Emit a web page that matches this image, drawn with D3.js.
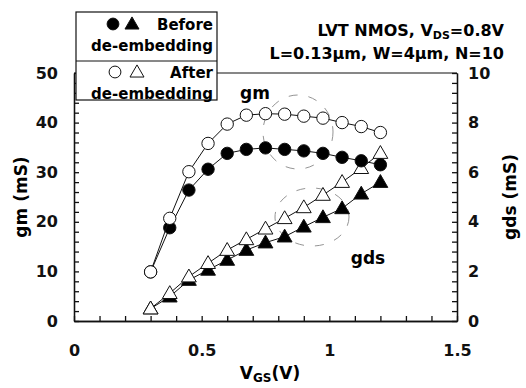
<!DOCTYPE html>
<html>
<head>
<meta charset="utf-8">
<script src="https://cdn.jsdelivr.net/npm/d3@7"></script>
<style>
  body { margin: 0; background: #fff; }
  svg { display: block; font-family: "DejaVu Sans", Verdana, sans-serif; font-weight: bold; }
  .axis text { font-size: 16px; font-weight: bold; fill: #111; font-family: "DejaVu Sans", Verdana, sans-serif; }
  .axis path, .axis line { stroke: #111; stroke-width: 1.3; }
</style>
</head>
<body>
<svg id="chart" width="526" height="388"></svg>
<script>
"use strict";

// V_GS sweep (V)
const vgs = [0.3, 0.375, 0.45, 0.525, 0.6, 0.675, 0.75, 0.825, 0.9, 0.975, 1.05, 1.125, 1.2];

// gm (mS), left axis
const gmBefore = [9.9, 18.8, 26.4, 30.6, 33.8, 34.6, 34.9, 34.6, 34.3, 33.8, 33.0, 32.3, 31.5];
const gmAfter = [9.9, 20.7, 30.1, 35.8, 39.7, 41.5, 41.8, 41.7, 41.3, 40.9, 40.0, 39.2, 38.0];

// gds (mS), right axis
const gdsBefore = [0.5, 0.98, 1.65, 2.06, 2.46, 2.86, 3.16, 3.4, 3.8, 4.18, 4.54, 5.13, 5.6];
const gdsAfter = [0.5, 1.12, 1.79, 2.33, 2.86, 3.29, 3.72, 4.14, 4.58, 5.08, 5.6, 6.16, 6.77];

// tick labels
const xTicks = [0, 0.5, 1, 1.5];
const gmTicks = [0, 10, 20, 30, 40, 50];
const gdsTicks = [0, 2, 4, 6, 8, 10];

const svg = d3.select("#chart");
const margin = { top: 73, right: 69, bottom: 67, left: 74 };
const width = 526 - margin.left - margin.right;
const height = 388 - margin.top - margin.bottom;

const x = d3.scaleLinear().domain([0, 1.5]).range([margin.left, margin.left + width]);
const yL = d3.scaleLinear().domain([0, 50]).range([margin.top + height, margin.top]);
const yR = d3.scaleLinear().domain([0, 10]).range([margin.top + height, margin.top]);

// frame top line
svg.append("line")
  .attr("x1", x(0)).attr("x2", x(1.5))
  .attr("y1", yL(50)).attr("y2", yL(50))
  .attr("stroke", "#111").attr("stroke-width", 1.2);

// x axis: minor ticks every 0.1, labels at the majors
svg.append("g").attr("class", "axis")
  .attr("transform", `translate(0,${yL(0)})`)
  .call(d3.axisBottom(x).tickValues(d3.range(0, 1.51, 0.1)).tickSizeInner(-5).tickSizeOuter(0).tickFormat(""));
svg.append("g").attr("class", "axis")
  .attr("transform", `translate(0,${yL(0)})`)
  .call(d3.axisBottom(x).tickValues(xTicks).tickSizeInner(0).tickSizeOuter(0).tickPadding(24)
    .tickFormat(d3.format("")));

svg.append("g").attr("class", "axis")
  .attr("transform", `translate(${x(0)},0)`)
  .call(d3.axisLeft(yL).tickValues(d3.range(0, 50.1, 2)).tickSizeInner(-5).tickSizeOuter(0).tickFormat(""));
svg.append("g").attr("class", "axis")
  .attr("transform", `translate(${x(0)},0)`)
  .call(d3.axisLeft(yL).tickValues(gmTicks).tickSizeInner(0).tickSizeOuter(0).tickPadding(16));

svg.append("g").attr("class", "axis")
  .attr("transform", `translate(${x(1.5)},0)`)
  .call(d3.axisRight(yR).tickValues(d3.range(0, 10.01, 0.4)).tickSizeInner(-5).tickSizeOuter(0).tickFormat(""));
svg.append("g").attr("class", "axis")
  .attr("transform", `translate(${x(1.5)},0)`)
  .call(d3.axisRight(yR).tickValues(gdsTicks).tickSizeInner(0).tickSizeOuter(0).tickPadding(11));

// axis titles
svg.append("text")
  .attr("transform", `translate(27,${yL(25)}) rotate(-90)`)
  .attr("text-anchor", "middle").attr("font-size", 17)
  .text("gm (mS)");
svg.append("text")
  .attr("transform", `translate(516,${yL(25)}) rotate(-90)`)
  .attr("text-anchor", "middle").attr("font-size", 17)
  .text("gds (mS)");
const xt = svg.append("text")
  .attr("x", 270).attr("y", 379)
  .attr("text-anchor", "middle").attr("font-size", 17);
xt.append("tspan").text("V");
xt.append("tspan").attr("font-size", 12).attr("dy", 3).text("GS");
xt.append("tspan").attr("dy", -3).text("(V)");

// dashed annotation ellipses
const ann = [
  { cx: 298, cy: 132, rx: 35, ry: 37 },
  { cx: 312, cy: 217, rx: 37, ry: 29 }
];
svg.selectAll(".ann").data(ann).join("ellipse")
  .attr("cx", d => d.cx).attr("cy", d => d.cy)
  .attr("rx", d => d.rx).attr("ry", d => d.ry)
  .attr("fill", "none").attr("stroke", "#888").attr("stroke-width", 0.9)
  .attr("stroke-dasharray", "9 11");

// series: gds first, then gm; "after" drawn over "before"
const series = [
  { vals: gdsBefore, y: yR, shape: d3.symbolTriangle, fill: "#000" },
  { vals: gdsAfter, y: yR, shape: d3.symbolTriangle, fill: "#fff" },
  { vals: gmBefore, y: yL, shape: d3.symbolCircle, fill: "#000" },
  { vals: gmAfter, y: yL, shape: d3.symbolCircle, fill: "#fff" }
];

series.forEach(s => {
  const pts = vgs.map((v, i) => [v, s.vals[i]]);
  const line = d3.line().x(d => x(d[0])).y(d => s.y(d[1]));
  svg.append("path").datum(pts)
    .attr("d", line).attr("fill", "none")
    .attr("stroke", "#111").attr("stroke-width", 1);
  const isTri = s.shape === d3.symbolTriangle;
  svg.append("g").selectAll("path").data(pts).join("path")
    .attr("transform", d => `translate(${x(d[0])},${s.y(d[1]) + (isTri ? 1 : 0)})`)
    .attr("d", d3.symbol(s.shape, isTri ? 95 : 120))
    .attr("fill", s.fill).attr("stroke", "#111").attr("stroke-width", 1);
});

// curve labels
svg.append("text").attr("x", 255).attr("y", 99).attr("text-anchor", "middle")
  .attr("font-size", 17).text("gm");
svg.append("text").attr("x", 368).attr("y", 264).attr("text-anchor", "middle")
  .attr("font-size", 17).text("gds");

// legend box
const lg = svg.append("g");
lg.append("rect").attr("x", 76).attr("y", 12).attr("width", 141).attr("height", 88)
  .attr("fill", "#fff").attr("stroke", "#111").attr("stroke-width", 1.2);
lg.append("line").attr("x1", 76).attr("x2", 217).attr("y1", 61).attr("y2", 61)
  .attr("stroke", "#111").attr("stroke-width", 1);

const legendRows = [
  { label: "Before", fill: "#000", y: 24, cx: 113, tx: 132 },
  { label: "After", fill: "#fff", y: 72, cx: 115, tx: 137 }
];
legendRows.forEach(r => {
  lg.append("path").attr("transform", `translate(${r.cx},${r.y})`)
    .attr("d", d3.symbol(d3.symbolCircle, 110)).attr("fill", r.fill).attr("stroke", "#111");
  lg.append("path").attr("transform", `translate(${r.tx},${r.y + 1})`)
    .attr("d", d3.symbol(d3.symbolTriangle, 85)).attr("fill", r.fill).attr("stroke", "#111");
  lg.append("text").attr("x", 213).attr("y", r.y + 6).attr("text-anchor", "end")
    .attr("font-size", 15).text(r.label);
  lg.append("text").attr("x", 213).attr("y", r.y + 27).attr("text-anchor", "end")
    .attr("font-size", 15).text("de-embedding");
});

// title
const t1 = svg.append("text").attr("x", 504).attr("y", 36).attr("text-anchor", "end").attr("font-size", 16);
t1.append("tspan").text("LVT NMOS, V");
t1.append("tspan").attr("font-size", 11).attr("dy", 3).text("DS");
t1.append("tspan").attr("dy", -3).text("=0.8V");
svg.append("text").attr("x", 504).attr("y", 59).attr("text-anchor", "end").attr("font-size", 16)
  .text("L=0.13\u03bcm, W=4\u03bcm, N=10");
</script>
</body>
</html>
